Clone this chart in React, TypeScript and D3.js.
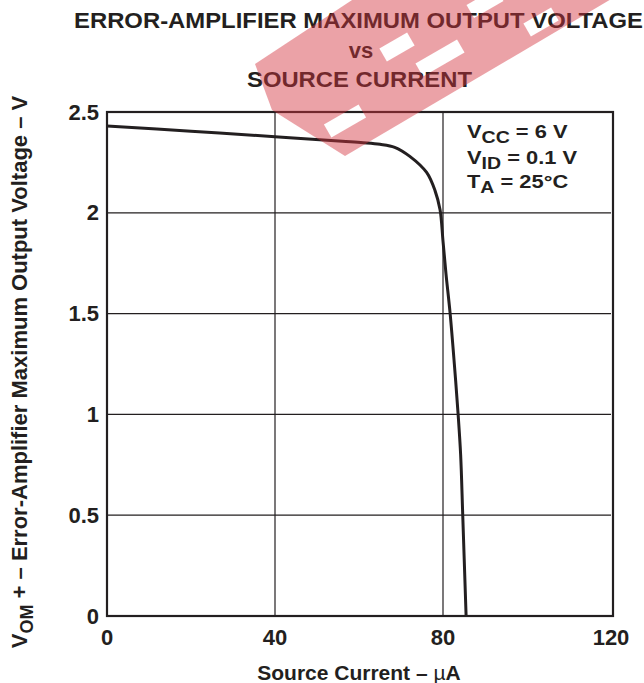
import React from "react";
import * as d3 from "d3";

const currents = [0, 20, 40, 56, 61, 65, 68.5, 72.1, 76.1, 78.1, 79.3, 80.0, 80.7, 81.7, 82.7, 83.6, 84.2, 84.7, 85.5];
const voltages = [2.43, 2.405, 2.377, 2.355, 2.348, 2.34, 2.325, 2.28, 2.2, 2.11, 2.015, 1.86, 1.7, 1.5, 1.25, 1.0, 0.8, 0.5, 0];
const xTicks = [0, 40, 80, 120];
const yTicks = [0, 0.5, 1, 1.5, 2, 2.5];
const yTickLabels = ["0", "0.5", "1", "1.5", "2", "2.5"];

const W = 644, H = 683;
const left = 107, right = 611, top = 112, bottom = 616;
const font = "'Liberation Sans', Arial, sans-serif";

// watermark outline and letter gaps
const wmOutline: [number, number][] = [[255, 64], [272, 110], [345, 156], [652, -25], [390, -25]];
const wmSlots = [
  { cx: 345, cy: 121, len: 40 },
  { cx: 397, cy: 47, len: 32 },
  { cx: 440, cy: 58, len: 48 },
  { cx: 485, cy: 3, len: 34 },
  { cx: 541, cy: 22, len: 32 },
];

export default function App() {
  const x = d3.scaleLinear().domain([0, 120]).range([left, right]);
  const y = d3.scaleLinear().domain([0, 2.5]).range([bottom, top]);
  const pts = currents.map((c, i) => [c, voltages[i]] as [number, number]);
  const line = d3.line<[number, number]>().x(d => x(d[0])).y(d => y(d[1])).curve(d3.curveCatmullRom.alpha(0.5));
  const outline = d3.line()(wmOutline) + "Z";
  const ink = "#231f20";
  return (
    <svg width={W} height={H} style={{ position: "absolute", left: 0, top: 0 }} fontFamily={font}>
      <defs>
        <mask id="wm" maskUnits="userSpaceOnUse" x={0} y={0} width={W} height={H}>
          <rect x={0} y={0} width={W} height={H} fill="#fff" />
          {wmSlots.map((s, i) => (
            <rect key={i} x={-s.len / 2} y={-7.5} width={s.len} height={15} fill="#000"
              transform={`translate(${s.cx},${s.cy}) rotate(-30)`} />
          ))}
        </mask>
      </defs>
      <rect width={W} height={H} fill="#fff" />
      {/* grid */}
      {xTicks.slice(1, -1).map(t => (
        <line key={"gx" + t} x1={x(t)} x2={x(t)} y1={top} y2={bottom} stroke={ink} strokeWidth={1.2} />
      ))}
      {yTicks.slice(1, -1).map(t => (
        <line key={"gy" + t} x1={left} x2={right} y1={y(t)} y2={y(t)} stroke={ink} strokeWidth={1.2} />
      ))}
      <rect x={left} y={top} width={right - left + 2} height={bottom - top} fill="none" stroke={ink} strokeWidth={2.2} />
      <path d={line(pts) || ""} fill="none" stroke={ink} strokeWidth={3} />
      {/* tick labels */}
      {xTicks.map(t => (
        <text key={"xl" + t} x={x(t)} y={645} textAnchor="middle" fontSize={22} fontWeight="bold" fill={ink}>{t}</text>
      ))}
      {yTicks.map((t, i) => (
        <text key={"yl" + t} x={99} y={y(t) + 7.5} textAnchor="end" fontSize={22} fontWeight="bold" fill={ink}>{yTickLabels[i]}</text>
      ))}
      <text x={x(60)} y={680} textAnchor="middle" fontSize={21} fontWeight="bold" fill={ink}>Source Current – <tspan fontWeight="normal">µ</tspan>A</text>
      <text transform={`translate(27, 372) rotate(-90)`} textAnchor="middle" fontSize={22} fontWeight="bold" fill={ink}>
        V<tspan fontSize={18} dy={6}>OM</tspan><tspan dy={-6}> +  – Error-Amplifier Maximum Output Voltage – V</tspan>
      </text>
      {/* legend */}
      <g fontSize={19} fontWeight="bold" fill={ink} transform="translate(467,0) scale(1.15,1)">
        <text x={0} y={138}>V<tspan fontSize={17} dy={5}>CC</tspan><tspan dy={-5}> = 6 V</tspan></text>
        <text x={0} y={164}>V<tspan fontSize={17} dy={5}>ID</tspan><tspan dy={-5}> = 0.1 V</tspan></text>
        <text x={0} y={188}>T<tspan fontSize={17} dy={5}>A</tspan><tspan dy={-5}> = 25°C</tspan></text>
      </g>
      {/* title */}
      <g fontSize={22} fontWeight="bold" fill={ink} textAnchor="middle">
        <text x={358.5} y={28} textLength={569} lengthAdjust="spacingAndGlyphs">ERROR-AMPLIFIER MAXIMUM OUTPUT VOLTAGE</text>
        <text x={361} y={58}>vs</text>
        <text x={359.5} y={87} textLength={225} lengthAdjust="spacingAndGlyphs">SOURCE CURRENT</text>
      </g>
      {/* watermark */}
      <path d={outline} fill="#d3333e" opacity={0.45} mask="url(#wm)" />
    </svg>
  );
}
